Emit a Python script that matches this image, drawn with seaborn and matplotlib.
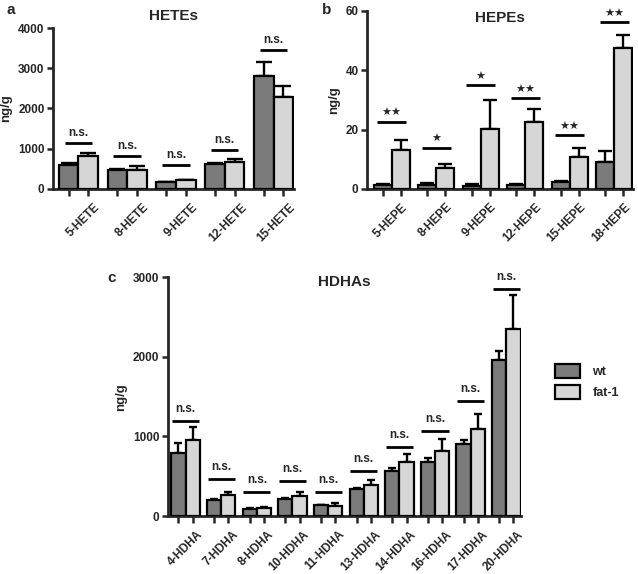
import matplotlib
matplotlib.use('Agg')
import matplotlib.pyplot as plt
from matplotlib.patches import Patch
import numpy as np
import pandas as pd
import seaborn as sns

# ---- data ----
groups = ['wt', 'fat-1']
colors = ['#7b7b7b', '#d6d6d6']

hete_names = ['5-HETE', '8-HETE', '9-HETE', '12-HETE', '15-HETE']
hete_wt = [605, 464, 170, 613, 2800]
hete_wt_err = [50, 40, 12, 25, 345]
hete_fat = [810, 475, 212, 679, 2294]
hete_fat_err = [93, 90, 15, 75, 265]
hete_sig = [1143, 820, 605, 977, 3445]
hete_lab = ['n.s.'] * 5

hepe_names = ['5-HEPE', '8-HEPE', '9-HEPE', '12-HEPE', '15-HEPE', '18-HEPE']
hepe_wt = [1.2, 1.4, 1.0, 1.2, 2.3, 9.0]
hepe_wt_err = [0.4, 0.6, 0.8, 0.4, 0.3, 3.6]
hepe_fat = [13.0, 6.9, 20.2, 22.5, 10.8, 47.6]
hepe_fat_err = [3.6, 1.4, 9.7, 4.3, 3.0, 4.3]
hepe_sig = [22.6, 13.9, 34.9, 30.6, 18.1, 56.1]
hepe_lab = ['★★', '★', '★', '★★', '★★', '★★']

hdha_names = ['4-HDHA', '7-HDHA', '8-HDHA', '10-HDHA', '11-HDHA',
              '13-HDHA', '14-HDHA', '16-HDHA', '17-HDHA', '20-HDHA']
hdha_wt = [788, 201, 92, 209, 134, 339, 566, 679, 905, 1961]
hdha_wt_err = [134, 13, 8, 13, 8, 13, 37, 50, 50, 117]
hdha_fat = [955, 260, 105, 255, 130, 390, 674, 817, 1089, 2346]
hdha_fat_err = [159, 46, 12, 51, 33, 62, 109, 147, 197, 436]
hdha_sig = [1194, 461, 297, 436, 297, 561, 871, 1072, 1445, 2849]
hdha_lab = ['n.s.'] * 10

sns.set_style('ticks')
plt.rcParams['font.family'] = ['Liberation Sans', 'DejaVu Sans']
plt.rcParams['font.weight'] = 'bold'
plt.rcParams['axes.titleweight'] = 'bold'
plt.rcParams['axes.labelweight'] = 'bold'


def make_df(names, wt, fat):
    return pd.DataFrame({
        'name': names * 2,
        'group': ['wt'] * len(names) + ['fat-1'] * len(names),
        'value': list(wt) + list(fat),
    })


def draw_panel(ax, names, wt, wt_err, fat, fat_err, sig, lab, ylim, yticks,
               xlim, title, title_y, sig_half, lab_shift, cap):
    df = make_df(names, wt, fat)
    sns.barplot(data=df, x='name', y='value', hue='group', hue_order=groups,
                palette=colors, errorbar=None, width=0.8, edgecolor='black',
                linewidth=1.6, ax=ax, legend=False, zorder=3)
    centers = []
    for cont, err in zip(ax.containers, [wt_err, fat_err]):
        xs = [b.get_x() + b.get_width() / 2 for b in cont]
        hs = [b.get_height() for b in cont]
        centers.extend(xs)
        ax.errorbar(xs, hs, yerr=[np.zeros(len(err)), err], fmt='none',
                    ecolor='black', elinewidth=1.7, capsize=cap,
                    capthick=1.7, zorder=2)
    span = ylim[1] - ylim[0]
    for i, (s, t) in enumerate(zip(sig, lab)):
        ax.plot([i - sig_half, i + sig_half], [s, s], color='black', lw=2,
                solid_capstyle='butt', clip_on=False)
        if t == 'n.s.':
            ax.text(i, s + span * 0.025, t, ha='center', va='bottom',
                    fontsize=8.5, fontweight='bold')
        else:
            ax.text(i, s + span * 0.02, t, ha='center', va='bottom',
                    fontsize=8, family='DejaVu Sans')
    ax.set_ylim(*ylim)
    ax.set_xlim(*xlim)
    ax.set_yticks(yticks)
    ax.set_xticks(np.arange(len(names)) + lab_shift)
    ax.set_xticklabels(names, rotation=45, ha='right',
                       rotation_mode='anchor', fontsize=8.5, fontweight='bold')
    ax.set_xticks(sorted(centers), minor=True)
    ax.tick_params(axis='x', which='major', length=0, pad=9)
    ax.tick_params(axis='x', which='minor', length=5, width=1.8)
    ax.tick_params(axis='y', length=4, width=1.8, labelsize=8.5, pad=2)
    for t in ax.get_yticklabels():
        t.set_fontweight('bold')
    ax.set_xlabel('')
    ax.set_ylabel('ng/g', fontsize=9.5, fontweight='bold', labelpad=4)
    ax.set_title(title, fontsize=11, fontweight='bold', y=title_y)
    sns.despine(ax=ax)
    for sp in ['left', 'bottom']:
        ax.spines[sp].set_linewidth(2)


fig = plt.figure(figsize=(6.38, 5.74), dpi=100)
ax_a = fig.add_axes([0.083, 0.671, 0.378, 0.280])
ax_b = fig.add_axes([0.575, 0.671, 0.417, 0.310])
ax_c = fig.add_axes([0.263, 0.101, 0.554, 0.416])

draw_panel(ax_a, hete_names, hete_wt, hete_wt_err, hete_fat, hete_fat_err,
           hete_sig, hete_lab, (0, 4000), [0, 1000, 2000, 3000, 4000],
           (-0.52, 4.42), 'HETEs', 1.0, 0.28, 0.32, 6)
draw_panel(ax_b, hepe_names, hepe_wt, hepe_wt_err, hepe_fat, hepe_fat_err,
           hepe_sig, hepe_lab, (0, 60), [0, 20, 40, 60],
           (-0.56, 5.42), 'HEPEs', 0.89, 0.33, 0.22, 5)
draw_panel(ax_c, hdha_names, hdha_wt, hdha_wt_err, hdha_fat, hdha_fat_err,
           hdha_sig, hdha_lab, (0, 3000), [0, 1000, 2000, 3000],
           (-0.5, 9.42), 'HDHAs', 0.93, 0.38, 0.3, 3)

fig.text(0.010, 0.975, 'a', fontsize=11, fontweight='bold')
fig.text(0.505, 0.975, 'b', fontsize=11, fontweight='bold')
fig.text(0.168, 0.508, 'c', fontsize=11, fontweight='bold')

handles = [Patch(facecolor=c, edgecolor='black', linewidth=1.6) for c in colors]
fig.legend(handles, groups, loc='upper left', bbox_to_anchor=(0.852, 0.385),
           frameon=False, prop={'weight': 'bold', 'size': 9},
           handlelength=2.0, handleheight=1.3, labelspacing=0.55,
           handletextpad=1.0)

fig.savefig('out.png', dpi=100)
